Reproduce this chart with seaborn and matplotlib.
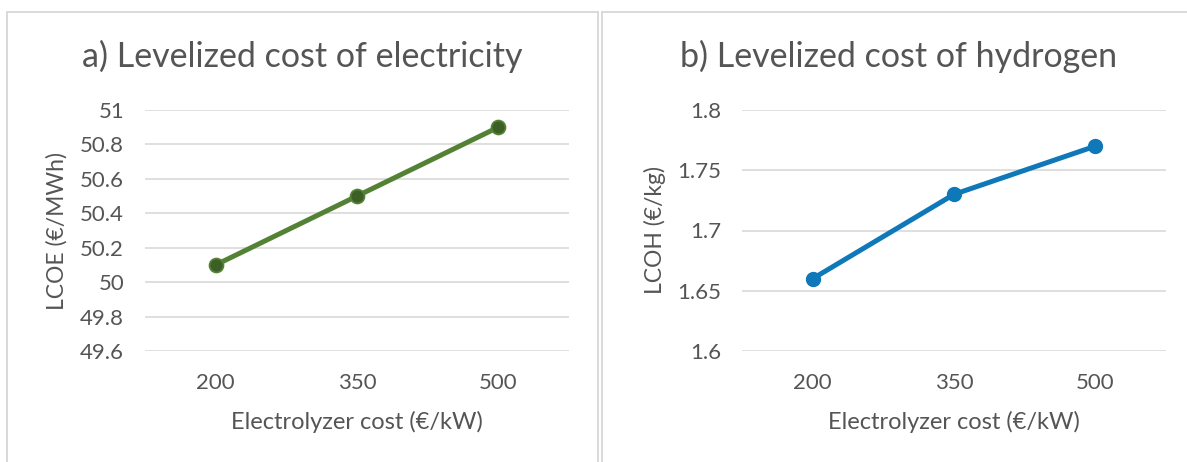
import matplotlib
matplotlib.use("Agg")
import matplotlib.pyplot as plt
from matplotlib.lines import Line2D
from matplotlib.ticker import FuncFormatter
import seaborn as sns
import pandas as pd

# ---------------- data ----------------
electrolyzer_cost = ["200", "350", "500"]
lcoe_values = [50.1, 50.5, 50.9]
lcoh_values = [1.66, 1.73, 1.77]

lcoe_ticks = [49.6, 49.8, 50.0, 50.2, 50.4, 50.6, 50.8, 51.0]
lcoh_ticks = [1.6, 1.65, 1.7, 1.75, 1.8]

title_a = "a) Levelized cost of electricity"
title_b = "b) Levelized cost of hydrogen"
xlabel = "Electrolyzer cost (€/kW)"
ylabel_a = "LCOE (€/MWh)"
ylabel_b = "LCOH (€/kg)"

# ---------------- style ----------------
sns.set_theme(style="white")
plt.rcParams["font.family"] = ["Lato", "DejaVu Sans"]
TXT = "#555555"
GRID = "#D9D9D9"

W, H = 1187, 462
DPI = 100
fig = plt.figure(figsize=(W / DPI, H / DPI), dpi=DPI)
fig.patch.set_facecolor("white")


def fx(px):
    return px / W


def fy(py):
    return 1 - py / H


def make_ax(left, right, top, bottom):
    return fig.add_axes([fx(left), fy(bottom), fx(right - left), (bottom - top) / H])


ax_a = make_ax(145, 569, 110, 351)
ax_b = make_ax(742, 1166, 110, 351)

df_a = pd.DataFrame({"cost": electrolyzer_cost, "value": lcoe_values})
df_b = pd.DataFrame({"cost": electrolyzer_cost, "value": lcoh_values})

sns.lineplot(data=df_a, x="cost", y="value", ax=ax_a, sort=False,
             color="#548235", linewidth=3.6, marker="o", markersize=10,
             markerfacecolor="#3C5F25", markeredgecolor="#548235",
             markeredgewidth=1.3, zorder=3)
sns.lineplot(data=df_b, x="cost", y="value", ax=ax_b, sort=False,
             color="#0E78B8", linewidth=3.6, marker="o", markersize=10,
             markerfacecolor="#0E78B8", markeredgecolor="#0E78B8",
             markeredgewidth=1.0, zorder=3)

fmt = FuncFormatter(lambda v, p: ("%.2f" % v).rstrip("0").rstrip("."))

for ax, ticks in ((ax_a, lcoe_ticks), (ax_b, lcoh_ticks)):
    ax.set_xlim(-0.5, 2.5)
    ax.set_ylim(ticks[0], ticks[-1])
    ax.set_yticks(ticks)
    ax.yaxis.set_major_formatter(fmt)
    for s in ax.spines.values():
        s.set_visible(False)
    ax.grid(axis="y", color=GRID, linewidth=1.2)
    ax.grid(axis="x", visible=False)
    ax.set_axisbelow(True)
    ax.tick_params(axis="both", length=0, colors=TXT, labelsize=16)
    ax.tick_params(axis="y", pad=15)
    ax.tick_params(axis="x", pad=16)
    ax.set_xlabel("")
    ax.set_ylabel("")
    ax.set_facecolor("white")

# texts in figure pixel coords
def ftext(x, y, s, size, **kw):
    return fig.text(fx(x), fy(y), s, fontsize=size, color=TXT, **kw)

ftext(302, 67, title_a, 24.5, ha="center", va="baseline")
ftext(899, 67, title_b, 24.5, ha="center", va="baseline")
ftext(357, 429, xlabel, 17, ha="center", va="baseline")
ftext(954, 429, xlabel, 17, ha="center", va="baseline")
ftext(57, 231, ylabel_a, 16.5, ha="center", va="center", rotation=90)
ftext(655, 230, ylabel_b, 16.5, ha="center", va="center", rotation=90)

# panel borders
BORDER = "#D9D9D9"
def fline(x0, y0, x1, y1):
    fig.add_artist(Line2D([fx(x0), fx(x1)], [fy(y0), fy(y1)], color=BORDER,
                          linewidth=1.4, transform=fig.transFigure))

fline(7, 11.5, 7, 470)
fline(7, 11.5, 598, 11.5)
fline(598, 11.5, 598, 470)
fline(602, 11.5, 602, 470)
fline(602, 11.5, 1195, 11.5)

fig.savefig("out.png", dpi=DPI, facecolor="white")
